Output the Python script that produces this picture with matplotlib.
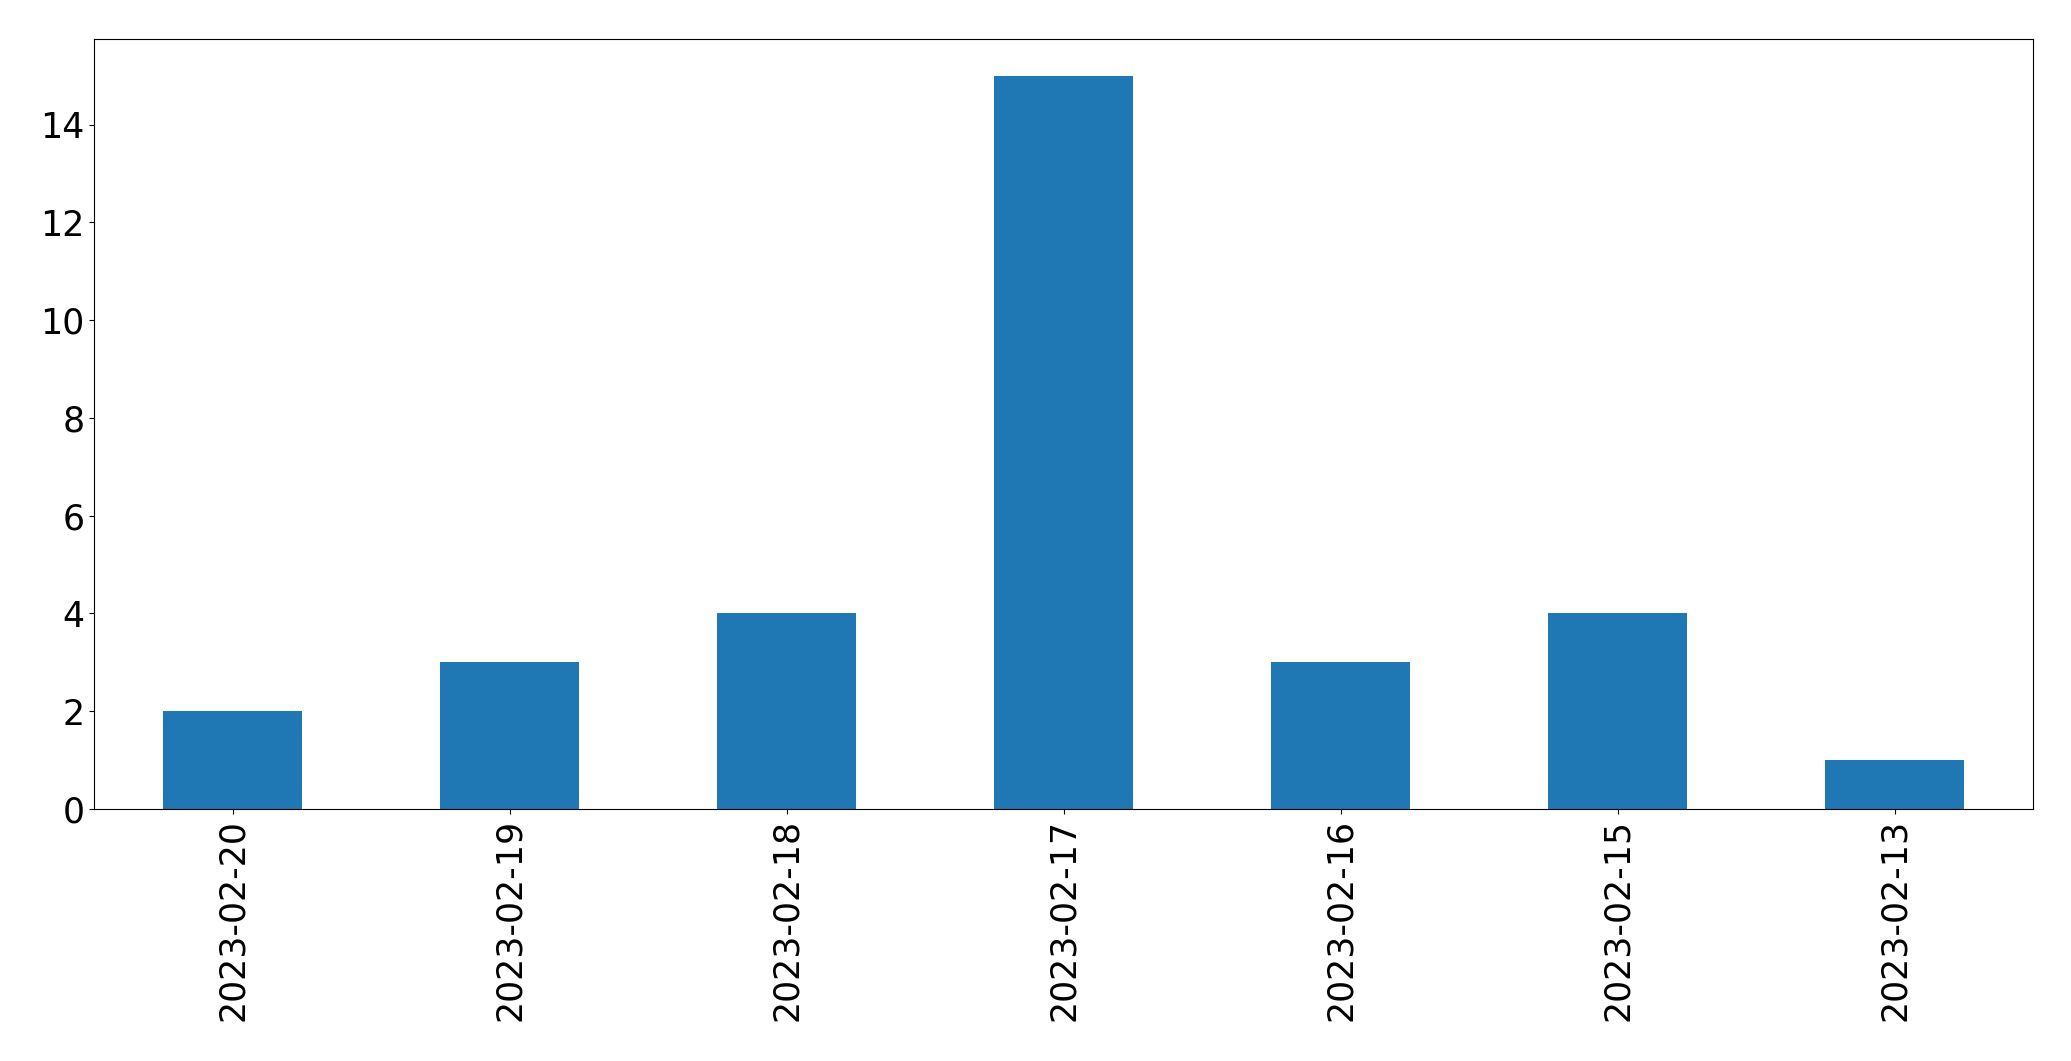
import matplotlib
matplotlib.use('Agg')
import matplotlib.pyplot as plt
import pandas

#dates as they appear on the x axis (most recent first)
dates = ['2023-02-20', '2023-02-19', '2023-02-18', '2023-02-17',
         '2023-02-16', '2023-02-15', '2023-02-13']
#count for each date
counts = [2, 3, 4, 15, 3, 4, 1]

series = pandas.Series(counts, index=dates)

fig, ax = plt.subplots(figsize=(20.71, 10.61), dpi=100)
fig.subplots_adjust(left=0.0454, right=0.9817, top=0.9632, bottom=0.2375)

series.plot(kind='bar', ax=ax, color='#1f77b4')
ax.tick_params(axis='both', labelsize=25)

fig.savefig('out.png', dpi=100)
